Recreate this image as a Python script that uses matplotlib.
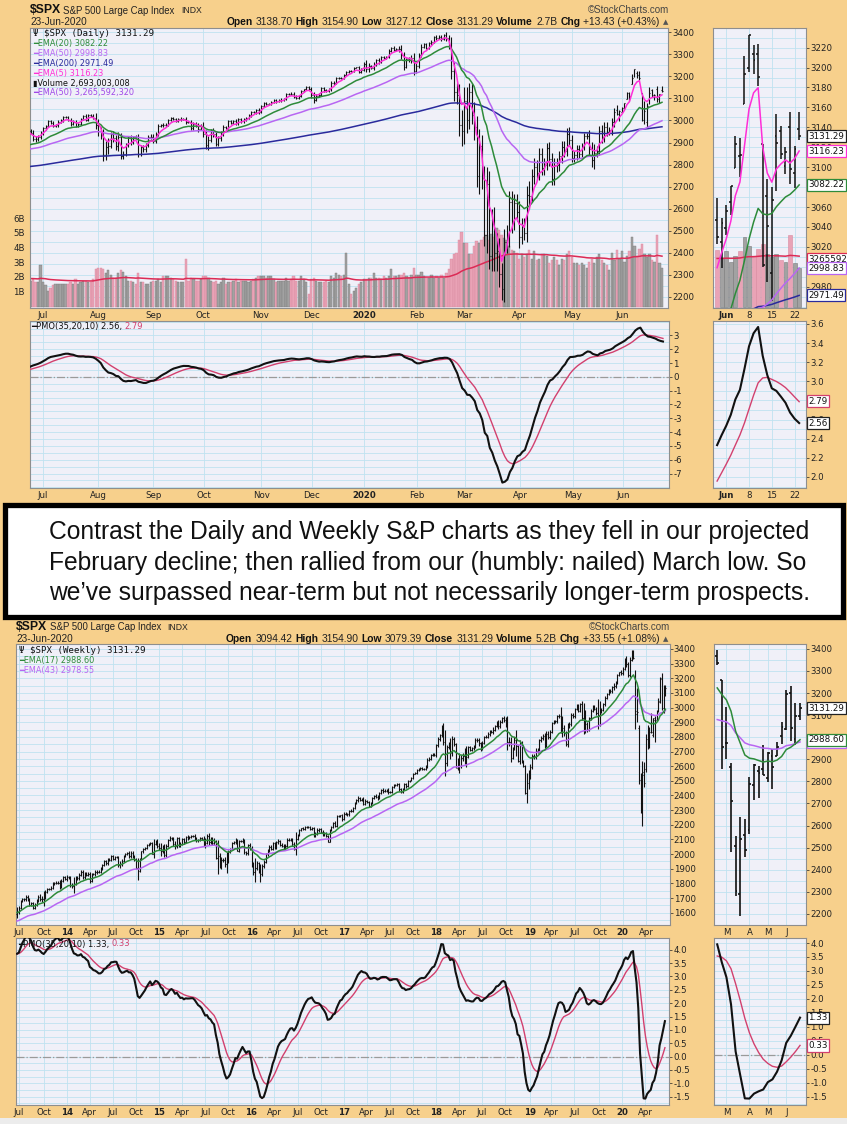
import numpy as np
import pandas as pd
import matplotlib
matplotlib.use("Agg")
import matplotlib.pyplot as plt
from matplotlib.patches import Rectangle
from matplotlib.transforms import Affine2D, blended_transform_factory

# ============================================================
# Daily data  (24-Jun-2019 .. 27-May-2020: closes + bar wicks)
# ============================================================

CLOSE_JUN19 = [2945.35, 2917.38, 2913.78, 2924.92, 2941.76]
CLOSE_JUL19 = [2964.33, 2973.01, 2995.82, 2990.41, 2975.95, 2979.63, 2993.07, 2999.91, 3013.77, 3014.30,
               3004.04, 2984.42, 2995.11, 2976.61, 2985.03, 3005.47, 3019.56, 3003.67, 3025.86, 3020.97,
               3013.18, 2980.38]
CLOSE_AUG19 = [2953.56, 2932.05, 2844.74, 2881.77, 2883.98, 2938.09, 2918.65, 2882.70, 2926.32, 2840.60,
               2847.60, 2888.68, 2923.65, 2900.51, 2924.43, 2922.95, 2847.11, 2878.38, 2869.16, 2887.94,
               2924.58, 2926.46]
CLOSE_SEP19 = [2906.27, 2937.78, 2976.00, 2978.71, 2978.43, 2979.39, 3000.93, 3009.57, 3007.39, 2997.96,
               3005.70, 3006.73, 3006.79, 2992.07, 2991.78, 2966.60, 2984.87, 2977.62, 2961.79, 2976.74]
CLOSE_OCT19 = [2940.25, 2887.61, 2910.63, 2952.01, 2938.79, 2893.06, 2919.40, 2938.13, 2970.27, 2966.15,
               2995.68, 2989.69, 2997.95, 2986.20, 3006.72, 2995.99, 3004.52, 3010.29, 3022.55, 3039.42,
               3036.89, 3046.77, 3037.56]
CLOSE_NOV19 = [3066.91, 3078.27, 3074.62, 3076.78, 3085.18, 3093.08, 3087.01, 3091.84, 3094.04, 3096.63,
               3120.46, 3122.03, 3120.18, 3108.46, 3103.54, 3110.29, 3133.64, 3140.52, 3153.63, 3140.98]
CLOSE_DEC19 = [3113.87, 3093.20, 3112.76, 3117.43, 3145.91, 3135.96, 3132.52, 3141.63, 3168.57, 3168.80,
               3191.45, 3192.52, 3191.14, 3205.37, 3221.22, 3224.01, 3223.38, 3239.91, 3240.02, 3221.29,
               3230.78]
CLOSE_JAN20 = [3257.85, 3234.85, 3246.28, 3237.18, 3253.05, 3274.70, 3265.35, 3288.13, 3283.15, 3289.29,
               3316.81, 3329.62, 3320.79, 3321.75, 3325.54, 3295.47, 3243.63, 3276.24, 3273.40, 3283.66,
               3225.52]
CLOSE_FEB20 = [3248.92, 3297.59, 3334.69, 3345.78, 3327.71, 3352.09, 3357.75, 3379.45, 3373.94, 3380.16,
               3370.29, 3386.15, 3373.23, 3337.75, 3225.89, 3128.21, 3116.39, 2978.76, 2954.22]
CLOSE_MAR20 = [3090.23, 3003.37, 3130.12, 3023.94, 2972.37, 2746.56, 2882.23, 2741.38, 2480.64, 2711.02,
               2386.13, 2529.19, 2398.10, 2409.39, 2304.92, 2237.40, 2447.33, 2475.56, 2630.07, 2541.47,
               2626.65, 2584.59]
CLOSE_APR20 = [2470.50, 2526.90, 2488.65, 2663.68, 2659.41, 2749.98, 2789.82, 2761.63, 2846.06, 2783.36,
               2799.55, 2874.56, 2823.16, 2736.56, 2799.31, 2797.80, 2836.74, 2878.48, 2863.39, 2939.51,
               2912.43]
CLOSE_MAY20 = [2830.71, 2842.74, 2868.44, 2848.42, 2881.19, 2929.80, 2930.32, 2870.12, 2820.00, 2852.50,
               2863.70, 2953.91, 2922.94, 2971.61, 2948.51, 2955.45, 2991.77, 3036.13]
FIRST_DAY_OPEN = 2951.4

WICK_JUN19 = [8, 10, 12, 8, 10]
WICK_JUL19 = [6, 6, 4, 8, 6, 6, 8, 5, 5, 4, 6, 8, 6, 8, 5, 6, 5, 8, 5, 5, 8, 20]
WICK_AUG19 = [25, 15, 30, 25, 35, 10, 15, 15, 20, 15, 15, 10, 8, 10, 5, 8, 15, 10, 10, 10, 8, 10]
WICK_SEP19 = [10, 8, 8, 5, 10, 8, 6, 5, 5, 5, 5, 10, 5, 8, 5, 10, 10, 8, 12, 6]
WICK_OCT19 = [15, 15, 20, 10, 12, 10, 10, 12, 10, 6, 6, 8, 6, 8, 6, 6, 6, 5, 5, 5, 5, 6, 8]
WICK_NOV19 = [5, 4, 4, 4, 5, 4, 6, 4, 6, 4, 4, 4, 5, 8, 8, 5, 4, 4, 4, 3]
WICK_DEC19 = [10, 15, 5, 5, 5, 5, 5, 5, 10, 10, 5, 5, 5, 4, 5, 4, 3, 3, 4, 8, 6]
WICK_JAN20 = [8, 15, 15, 6, 10, 5, 8, 5, 5, 5, 5, 5, 6, 8, 10, 15, 15, 8, 10, 15, 20]
WICK_FEB20 = [10, 10, 10, 5, 6, 5, 8, 5, 8, 5, 8, 5, 15, 15, 40, 40, 40, 50, 70]
WICK_MAR20 = [60, 60, 40, 40, 60, 50, 80, 50, 50, 80, 60, 70, 80, 80, 60, 50, 60, 50, 50, 50, 40, 40]
WICK_APR20 = [50, 30, 30, 40, 60, 30, 40, 30, 30, 30, 30, 25, 30, 30, 30, 30, 25, 30, 30, 25, 30]
WICK_MAY20 = [20, 20, 20, 20, 15, 15, 15, 25, 30, 40, 20, 20, 25, 20, 20, 15, 20, 20]

# daily volume, billions of shares (24-Jun-2019 .. 27-May-2020)
VOL_JUN19 = [1.8, 1.9, 1.7, 1.7, 2.9]
VOL_JUL19 = [1.7, 1.5, 1.1, 1.3, 1.5, 1.6, 1.6, 1.6, 1.6, 1.6, 1.6, 1.7, 1.6, 1.9, 1.6, 1.7, 1.8, 1.8, 1.7, 1.7,
             1.9, 2.6]
VOL_AUG19 = [2.7, 2.7, 2.6, 2.3, 2.5, 2.2, 2.0, 2.0, 2.3, 2.5, 2.4, 2.1, 1.8, 1.8, 1.7, 1.6, 2.3, 1.7, 1.7, 1.6,
             1.6, 1.7]
VOL_SEP19 = [1.8, 1.8, 1.9, 1.7, 2.1, 2.1, 2.1, 2.0, 1.9, 1.8, 1.7, 1.7, 1.7, 3.3, 1.8, 2.0, 1.9, 1.8, 1.8, 1.9]
VOL_OCT19 = [2.1, 2.1, 2.0, 1.8, 1.7, 1.8, 1.6, 1.7, 2.0, 1.6, 1.7, 1.7, 1.8, 1.9, 1.7, 1.8, 1.8, 1.8, 1.7, 1.8,
             1.9, 2.0, 2.1]
VOL_NOV19 = [2.1, 2.1, 2.0, 2.1, 2.1, 1.9, 1.7, 1.8, 1.8, 1.8, 2.0, 1.8, 1.9, 2.1, 1.8, 1.8, 2.1, 1.9, 1.7, 0.9]
VOL_DEC19 = [1.9, 2.0, 1.8, 1.7, 1.7, 1.7, 1.8, 1.7, 2.1, 2.0, 2.3, 2.2, 2.1, 2.2, 3.7, 1.6, 0.9, 1.1, 1.3, 1.6,
             1.7]
VOL_JAN20 = [1.9, 1.9, 2.0, 2.0, 2.3, 2.0, 2.0, 1.9, 2.1, 2.0, 2.1, 2.6, 2.1, 2.1, 2.2, 2.2, 2.3, 2.1, 2.0, 2.2,
             2.7]
VOL_FEB20 = [2.2, 2.2, 2.4, 2.1, 2.0, 2.0, 2.2, 2.0, 2.1, 2.0, 2.2, 2.0, 2.3, 2.6, 3.3, 3.6, 3.7, 4.6, 5.1]
VOL_MAR20 = [4.4, 4.4, 3.6, 3.6, 4.2, 4.5, 4.4, 4.6, 4.8, 4.9, 4.6, 5.0, 4.8, 5.4, 5.3, 4.9, 4.7, 4.6, 4.2, 3.9,
             3.8, 3.7]
VOL_APR20 = [3.3, 3.6, 3.4, 3.6, 3.9, 3.3, 3.8, 3.2, 3.3, 3.6, 3.6, 3.5, 3.0, 3.2, 3.4, 3.2, 2.9, 3.3, 3.2, 3.6,
             3.8]
VOL_MAY20 = [3.4, 3.0, 3.0, 2.9, 3.0, 2.9, 2.7, 3.1, 3.3, 3.0, 3.4, 3.6, 3.2, 3.0, 2.9, 2.5, 3.7, 3.2]

# last 19 sessions (28-May .. 23-Jun-2020), full OHLC + volume
RECENT_OPEN = [3046.61, 3025.17, 3038.78, 3064.78, 3098.90, 3111.56, 3163.84, 3199.92, 3213.32, 3213.42,
               3123.53, 3071.04, 2993.76, 3131.00, 3136.13, 3101.64, 3140.29, 3094.42, 3138.70]
RECENT_HIGH = [3068.67, 3049.17, 3062.18, 3081.07, 3130.94, 3128.91, 3211.72, 3233.13, 3222.71, 3223.27,
               3123.53, 3088.42, 3079.76, 3153.45, 3141.16, 3120.00, 3155.53, 3120.92, 3154.90]
RECENT_LOW = [3023.40, 2998.61, 3031.54, 3051.64, 3098.90, 3090.41, 3163.84, 3196.00, 3193.11, 3181.49,
              2999.49, 2984.47, 2965.66, 3076.06, 3108.03, 3093.51, 3083.11, 3079.39, 3127.12]
RECENT_CLOSE = [3029.73, 3044.31, 3055.73, 3080.82, 3122.87, 3112.35, 3193.93, 3232.39, 3207.18, 3190.14,
                3002.10, 3041.31, 3066.59, 3124.74, 3113.49, 3115.34, 3097.74, 3117.86, 3131.29]
RECENT_VOL = [3.9, 3.3, 3.8, 3.1, 3.5, 3.8, 4.8, 4.2, 3.5, 4.0, 4.3, 3.6, 3.4, 3.6, 3.2, 3.1, 4.9, 3.0, 2.693]

HOLIDAYS = ["2019-07-04", "2019-09-02", "2019-11-28", "2019-12-25", "2020-01-01",
            "2020-01-20", "2020-02-17", "2020-04-10", "2020-05-25"]

# ============================================================
# Weekly data  (28-Jun-2013 .. 14-Feb-2020: closes + wicks)
# ============================================================

WCLOSE_2013 = [1606.28, 1631.89, 1680.19, 1692.09, 1691.65, 1709.67, 1691.42, 1655.83, 1663.50, 1632.97,
               1655.17, 1687.99, 1709.91, 1691.75, 1690.50, 1703.20, 1744.50, 1759.77, 1761.64, 1770.61,
               1798.18, 1804.76, 1805.81, 1805.09, 1775.32, 1818.32, 1841.40]
WCLOSE_2014 = [1831.37, 1842.37, 1838.70, 1790.29, 1782.59, 1797.02, 1838.63, 1836.25, 1859.45, 1878.04,
               1841.13, 1866.52, 1857.62, 1865.09, 1815.69, 1864.85, 1863.40, 1881.14, 1878.48, 1877.86,
               1900.53, 1923.57, 1949.44, 1936.16, 1962.87, 1960.96, 1985.44, 1967.57, 1978.22, 1978.34,
               1925.15, 1931.59, 1955.06, 1988.40, 2003.37, 2007.71, 1985.54, 2010.40, 1982.85, 1967.90,
               1906.13, 1886.76, 1964.58, 2018.05, 2031.92, 2039.82, 2063.50, 2067.56, 2075.37, 2002.33,
               2070.65, 2088.77]
WCLOSE_2015 = [2058.20, 2044.81, 2019.42, 2051.82, 1994.99, 2055.47, 2096.99, 2110.30, 2104.50, 2071.26,
               2053.40, 2108.10, 2061.02, 2066.96, 2102.06, 2081.18, 2117.69, 2108.29, 2116.10, 2122.73,
               2126.06, 2107.39, 2092.83, 2094.11, 2109.99, 2101.49, 2076.78, 2076.62, 2126.64, 2079.65,
               2103.84, 2077.57, 2091.54, 1970.89, 1988.87, 1921.22, 1961.05, 1958.03, 1931.34, 1951.36,
               2014.89, 2033.11, 2075.15, 2079.36, 2099.20, 2023.04, 2089.17, 2090.11, 2091.69, 2012.37,
               2005.55, 2060.99, 2043.94]
WCLOSE_2016 = [1922.03, 1880.33, 1906.90, 1940.24, 1880.05, 1864.78, 1917.78, 1948.05, 1999.99, 2022.19,
               2049.58, 2035.94, 2072.78, 2047.60, 2080.73, 2091.58, 2065.30, 2057.14, 2046.61, 2052.32,
               2099.06, 2099.13, 2096.07, 2071.22, 2037.41, 2102.95, 2129.90, 2161.74, 2175.03, 2173.60,
               2182.87, 2184.05, 2183.87, 2169.04, 2179.98, 2127.81, 2139.16, 2164.69, 2168.27, 2153.74,
               2132.98, 2141.16, 2126.41, 2085.18, 2164.45, 2181.90, 2213.35, 2191.95, 2259.53, 2258.07,
               2263.79, 2238.83]
WCLOSE_2017 = [2276.98, 2274.64, 2271.31, 2294.69, 2297.42, 2316.10, 2351.16, 2367.34, 2383.12, 2372.60,
               2378.25, 2343.98, 2362.72, 2355.54, 2328.95, 2348.69, 2384.20, 2399.29, 2390.90, 2381.73,
               2415.82, 2439.07, 2431.77, 2433.15, 2438.30, 2423.41, 2425.18, 2459.27, 2472.54, 2472.10,
               2476.83, 2441.32, 2425.55, 2443.05, 2476.55, 2461.43, 2500.23, 2502.22, 2519.36, 2549.33,
               2553.17, 2575.21, 2581.07, 2587.84, 2582.30, 2578.85, 2602.42, 2642.22, 2651.50, 2675.81,
               2683.34, 2673.61]
WCLOSE_2018 = [2743.15, 2786.24, 2810.30, 2872.87, 2762.13, 2619.55, 2732.22, 2747.30, 2691.25, 2786.57,
               2752.01, 2588.26, 2640.87, 2604.47, 2656.30, 2670.14, 2669.91, 2663.42, 2727.72, 2712.97,
               2721.33, 2734.62, 2779.03, 2779.66, 2754.88, 2718.37, 2759.82, 2801.31, 2801.83, 2818.82,
               2840.35, 2833.28, 2850.13, 2874.69, 2901.52, 2871.68, 2904.98, 2929.67, 2913.98, 2885.57,
               2767.13, 2767.78, 2658.69, 2723.06, 2781.01, 2736.27, 2632.56, 2760.17, 2633.08, 2599.95,
               2416.62, 2485.74]
WCLOSE_2019 = [2531.94, 2596.26, 2670.71, 2664.76, 2706.53, 2707.88, 2775.60, 2792.67, 2803.69, 2743.07,
               2822.48, 2800.71, 2834.40, 2892.74, 2907.41, 2905.03, 2939.88, 2945.64, 2881.40, 2859.53,
               2826.06, 2752.06, 2873.34, 2886.98, 2950.46, 2941.76, 2990.41, 3013.77, 2976.61, 3025.86,
               2932.05, 2918.65, 2888.68, 2847.11, 2926.46, 2978.71, 3007.39, 2992.07, 2961.79, 2952.01,
               2970.27, 2986.20, 3022.55, 3066.91, 3093.08, 3120.46, 3110.29, 3140.98, 3145.91, 3168.80,
               3221.22, 3240.02]
WCLOSE_2020 = [3234.85, 3265.35, 3329.62, 3295.47, 3225.52, 3327.71, 3380.16]
FIRST_WEEK_OPEN = 1592.4

WWICK_2013 = [30, 12, 8, 8, 10, 10, 10, 12, 10, 8, 10, 8, 12, 15, 20, 44, 8, 8, 8, 10, 8, 8, 8, 12, 15, 10, 8]
WWICK_2014 = [10, 12, 10, 15, 12, 45, 10, 10, 10, 10, 12, 12, 10, 10, 10, 8, 8, 10, 12, 10, 8, 6, 8, 10, 8, 8,
              8, 10, 10, 8, 10, 20, 12, 8, 6, 8, 12, 10, 12, 12, 8, 66, 10, 6, 8, 6, 6, 8, 8, 5, 30, 10]
WWICK_2015 = [15, 20, 31, 10, 15, 15, 8, 10, 8, 15, 20, 10, 10, 15, 8, 10, 8, 10, 8, 8, 6, 8, 12, 10, 8, 8,
              20, 32, 10, 15, 10, 15, 15, 5, 104, 18, 20, 15, 20, 60, 10, 10, 8, 8, 8, 5, 10, 6, 15, 10, 12,
              10, 15]
WWICK_2016 = [8, 22, 68, 15, 8, 55, 15, 10, 10, 10, 10, 10, 10, 12, 10, 10, 8, 12, 15, 15, 8, 8, 10, 15, 10,
              45, 10, 8, 6, 8, 6, 5, 6, 8, 8, 8, 12, 10, 12, 8, 8, 10, 10, 5, 5, 8, 6, 10, 8, 6, 5, 10]
WWICK_2017 = [8, 8, 8, 8, 8, 8, 6, 6, 10, 8, 8, 10, 10, 8, 8, 8, 6, 6, 8, 12, 6, 6, 12, 8, 6, 10, 8, 6, 6, 8,
              6, 8, 10, 8, 6, 8, 6, 6, 5, 5, 5, 6, 8, 6, 8, 8, 6, 15, 8, 6, 6, 6]
WWICK_2018 = [10, 10, 12, 8, 20, 87, 15, 15, 44, 20, 15, 3, 15, 51, 20, 20, 57, 69, 10, 10, 10, 10, 10, 12,
              15, 12, 10, 8, 10, 12, 10, 8, 15, 8, 8, 15, 10, 8, 10, 20, 57, 30, 30, 10, 15, 65, 5, 20, 12, 7,
              8, 70]
WWICK_2019 = [41, 20, 15, 15, 15, 15, 12, 12, 15, 21, 15, 15, 15, 10, 8, 8, 10, 10, 56, 58, 20, 15, 23, 15,
              15, 12, 10, 8, 10, 8, 18, 96, 63, 12, 10, 10, 10, 10, 12, 96, 78, 10, 8, 10, 8, 8, 8, 8, 20, 10,
              8, 5]
WWICK_2020 = [15, 15, 8, 20, 15, 20, 10]

# last 19 weeks (21-Feb .. 23-Jun-2020), full OHLC
RW_OPEN = [3369.04, 3257.61, 2974.28, 2863.89, 2508.59, 2290.71, 2558.98, 2578.28, 2782.46, 2845.62,
           2854.65, 2815.01, 2915.46, 2913.86, 3004.08, 3038.78, 3199.92, 2993.76, 3094.42]
RW_HIGH = [3393.52, 3259.81, 3136.72, 2882.59, 2553.93, 2637.01, 2631.80, 2818.57, 2879.22, 2868.98,
           2964.42, 2932.16, 2945.82, 2980.29, 3068.67, 3211.72, 3233.13, 3155.53, 3154.90]
RW_LOW = [3328.45, 2855.84, 2901.54, 2478.86, 2280.52, 2191.86, 2455.79, 2562.98, 2717.76, 2727.10,
          2827.52, 2797.85, 2766.64, 2913.86, 2969.75, 3031.54, 2984.47, 2965.66, 3079.39]
RW_CLOSE = [3337.75, 2954.22, 2972.37, 2711.02, 2304.92, 2541.47, 2488.65, 2789.82, 2874.56, 2836.74,
            2830.71, 2929.80, 2863.70, 2955.45, 3044.31, 3193.93, 3041.31, 3097.74, 3131.29]

# ============================================================
# Style
# ============================================================

W, H = 847, 1124
ORANGE = "#F7D08C"
PANEL = "#F0F0F8"
GRID = "#BFE2F0"
BARC = "#111111"
GREEN = "#2E8B3A"
VIOLET = "#B866F2"
NAVY = "#2A2A9C"
MAGENTA = "#FF2ED8"
VOLRED = "#DC2A55"
SIGRED = "#D2406E"
VOL_PINK = "#E9A3B6"
VOL_GRAY = "#A2A2A2"
VOL_LO, VOL_HI = -0.07, 19.1
TXT = "#222222"
SANS = "Liberation Sans"


def ema(values, n, seed):
    a = 2.0 / (n + 1)
    out, e = [], seed
    for v in values:
        e = e + a * (v - e)
        out.append(e)
    return np.array(out)


def pmo(close, s1, p, sig):
    # StockCharts PMO: 20-custom(10 * 35-custom(ROC)), signal = EMA(10)
    ps, ss = [p], [sig]
    for i in range(1, len(close)):
        roc = (close[i] / close[i - 1] - 1) * 100
        s1 += (roc * 10 - s1) * 2 / 35
        p += (s1 - p) * 2 / 20
        sig += (p - sig) * 2 / 11
        ps.append(p)
        ss.append(sig)
    return np.array(ps), np.array(ss)


# ---- assemble daily series
d_close_hist = np.concatenate([CLOSE_JUN19, CLOSE_JUL19, CLOSE_AUG19, CLOSE_SEP19, CLOSE_OCT19, CLOSE_NOV19,
                               CLOSE_DEC19, CLOSE_JAN20, CLOSE_FEB20, CLOSE_MAR20, CLOSE_APR20, CLOSE_MAY20])
d_wick = np.concatenate([WICK_JUN19, WICK_JUL19, WICK_AUG19, WICK_SEP19, WICK_OCT19, WICK_NOV19,
                         WICK_DEC19, WICK_JAN20, WICK_FEB20, WICK_MAR20, WICK_APR20, WICK_MAY20])
d_open_hist = np.r_[FIRST_DAY_OPEN, d_close_hist[:-1]]
d_open = np.r_[d_open_hist, RECENT_OPEN]
d_high = np.r_[np.maximum(d_open_hist, d_close_hist) + d_wick, RECENT_HIGH]
d_low = np.r_[np.minimum(d_open_hist, d_close_hist) - d_wick, RECENT_LOW]
d_close = np.r_[d_close_hist, RECENT_CLOSE]
d_vol = np.concatenate([VOL_JUN19, VOL_JUL19, VOL_AUG19, VOL_SEP19, VOL_OCT19, VOL_NOV19, VOL_DEC19,
                        VOL_JAN20, VOL_FEB20, VOL_MAR20, VOL_APR20, VOL_MAY20, RECENT_VOL])
d_dates = pd.bdate_range("2019-06-24", "2020-06-23")
d_dates = d_dates[~d_dates.isin(pd.to_datetime(HOLIDAYS))]
assert len(d_dates) == len(d_close) == len(d_vol)
dx = np.arange(len(d_close))

ema5 = ema(d_close, 5, 2938)
ema20 = ema(d_close, 20, 2885)
ema50 = ema(d_close, 50, 2868)
ema200 = ema(d_close, 200, 2790)
vema50 = ema(d_vol, 50, 1.95)
d_pmo, d_sig = pmo(d_close, 2.2, 0.75, 0.55)
d_up = np.r_[True, d_close[1:] >= d_close[:-1]]

# ---- assemble weekly series
w_close_hist = np.concatenate([WCLOSE_2013, WCLOSE_2014, WCLOSE_2015, WCLOSE_2016, WCLOSE_2017,
                               WCLOSE_2018, WCLOSE_2019, WCLOSE_2020])
w_wick = np.concatenate([WWICK_2013, WWICK_2014, WWICK_2015, WWICK_2016, WWICK_2017, WWICK_2018,
                         WWICK_2019, WWICK_2020])
w_open_hist = np.r_[FIRST_WEEK_OPEN, w_close_hist[:-1]]
w_open = np.r_[w_open_hist, RW_OPEN]
w_high = np.r_[np.maximum(w_open_hist, w_close_hist) + w_wick, RW_HIGH]
w_low = np.r_[np.minimum(w_open_hist, w_close_hist) - w_wick, RW_LOW]
w_close = np.r_[w_close_hist, RW_CLOSE]
w_dates = pd.date_range("2013-06-28", periods=len(w_close), freq="7D")
wx = np.arange(len(w_close))

ema17 = ema(w_close, 17, 1600)
ema43 = ema(w_close, 43, 1540)
w_pmo, w_sig = pmo(w_close, 3.6, 3.85, 3.85)

N_IN = len(RECENT_CLOSE)     # daily zoom panel
NW_IN = len(RW_CLOSE)        # weekly zoom panel

# ============================================================
# Figure helpers
# ============================================================

fig = plt.figure(figsize=(W / 100, H / 100), dpi=100)
fig.patch.set_facecolor(ORANGE)


def px_axes(x0, y0, x1, y1):
    ax = fig.add_axes([x0 / W, 1 - y1 / H, (x1 - x0) / W, (y1 - y0) / H])
    ax.set_facecolor(PANEL)
    for s in ax.spines.values():
        s.set_color("#8E8E8E")
        s.set_linewidth(0.8)
    ax.tick_params(axis="y", which="both", left=False, right=True, labelleft=False, labelright=True,
                   length=2, width=0.5, pad=1, labelsize=6.2, colors=TXT)
    ax.tick_params(axis="y", which="minor", length=0)
    ax.tick_params(axis="x", which="both", length=0, pad=2.2, labelsize=6.2, colors=TXT)
    ax.grid(True, which="both", color=GRID, lw=0.6)
    ax.set_axisbelow(True)
    return ax


def vol_trans(ax):
    ty = Affine2D().translate(0, -VOL_LO).scale(1, 1 / (VOL_HI - VOL_LO)) + ax.transAxes
    return blended_transform_factory(ax.transData, ty), blended_transform_factory(ax.transAxes, ty)


def ohlc(ax, x, o, h, l, c, lw, tick):
    ax.vlines(x, l, h, color=BARC, lw=lw, zorder=3)
    ax.hlines(o, x - tick, x, color=BARC, lw=lw, zorder=3)
    ax.hlines(c, x, x + tick, color=BARC, lw=lw, zorder=3)


def tag(ax, y, text, ec, trans=None, z=5):
    tr = trans if trans is not None else blended_transform_factory(ax.transAxes, ax.transData)
    ax.annotate(text, xy=(1.0, y), xycoords=tr, xytext=(1.5, 0), textcoords="offset points",
                ha="left", va="center", fontsize=6.3, color="#111111", zorder=z,
                bbox=dict(boxstyle="square,pad=0.18", fc="white", ec=ec, lw=0.9),
                annotation_clip=False)


def runs(x, y, pieces, ha="left", gap=3.0):
    rend = fig.canvas.get_renderer()
    arts = [fig.text(0, 1 - y / H, s, va="center", **kw) for s, kw in pieces]
    widths = [a.get_window_extent(rend).width for a in arts]
    total = sum(widths) + gap * (len(arts) - 1)
    cur = x - total if ha == "right" else x
    for a, w in zip(arts, widths):
        a.set_x(cur / W)
        cur += w + gap


def ftext(x, y, s, **kw):
    kw.setdefault("va", "center")
    return fig.text(x / W, 1 - y / H, s, **kw)


def month_ticks(dates, months, fmt):
    idx, labels, bold = [], [], []
    prev = None
    for i, d in enumerate(dates):
        if prev is not None and d.month != prev and d.month in months:
            idx.append(i)
            labels.append(fmt(d))
            bold.append(d.month == 1)
        prev = d.month
    return idx, labels, bold


def set_xlabels(ax, idx, labels, bold):
    ax.set_xticks(idx)
    ax.set_xticklabels(labels)
    for lab, b in zip(ax.get_xticklabels(), bold):
        if b:
            lab.set_fontweight("bold")


B7 = dict(fontfamily=SANS, fontweight="bold", fontsize=7.4, color="#111111")
R7 = dict(fontfamily=SANS, fontsize=7.4, color="#222222")
TRI = dict(fontfamily="DejaVu Sans", fontsize=5, color="#555555")

d_idx, d_lab, d_bold = month_ticks(d_dates, range(1, 13),
                                   lambda d: "2020" if d.month == 1 else d.strftime("%b"))
w_idx, w_lab, w_bold = month_ticks(w_dates - pd.Timedelta(days=4), (1, 4, 7, 10),
                                   lambda d: f"{d.year % 100:02d}" if d.month == 1 else d.strftime("%b"))

# ============================================================
# Daily chart (top)
# ============================================================

ax = px_axes(30, 28, 668, 308)
vt, vta = vol_trans(ax)
ax.bar(dx, d_vol, width=0.9, color=np.where(d_up, VOL_GRAY, VOL_PINK),
       edgecolor=np.where(d_up, "#7A7A7A", "#D98AA0"), lw=0.3, transform=vt, zorder=1)
ax.plot(dx, vema50, color=VOLRED, lw=1.1, transform=vt, zorder=2)
ohlc(ax, dx, d_open, d_high, d_low, d_close, 0.8, 0.35)
ax.plot(dx, ema200, color=NAVY, lw=1.1, zorder=4)
ax.plot(dx, ema50, color=VIOLET, lw=1.1, zorder=4)
ax.plot(dx, ema20, color=GREEN, lw=1.1, zorder=4)
ax.plot(dx, ema5, color=MAGENTA, lw=1.1, zorder=4)
ax.set_xlim(-0.2, 254.4)
ax.set_ylim(2164, 3419)
ax.set_yticks(np.arange(2200, 3401, 100))
ax.set_yticks(np.arange(2150, 3401, 50), minor=True)
set_xlabels(ax, d_idx, d_lab, d_bold)
for v in range(1, 7):
    ax.text(-0.008, v, f"{v}B", transform=vta, ha="right", va="center", fontsize=6.2, color=TXT)

# zoomed daily panel
axi = px_axes(713, 28, 806, 308)
ix = np.arange(N_IN)
s = slice(len(d_close) - N_IN, None)
vti, vtai = vol_trans(axi)
axi.bar(ix, d_vol[s], width=0.85, color=np.where(d_up[s], VOL_GRAY, VOL_PINK),
        edgecolor=np.where(d_up[s], "#7A7A7A", "#D98AA0"), lw=0.4, transform=vti, zorder=1)
axi.plot(ix, vema50[s], color=VOLRED, lw=1.1, transform=vti, zorder=2)
ohlc(axi, ix, d_open[s], d_high[s], d_low[s], d_close[s], 1.1, 0.4)
axi.plot(ix, ema200[s], color=NAVY, lw=1.1, zorder=4)
axi.plot(ix, ema50[s], color=VIOLET, lw=1.1, zorder=4)
axi.plot(ix, ema20[s], color=GREEN, lw=1.1, zorder=4)
axi.plot(ix, ema5[s], color=MAGENTA, lw=1.1, zorder=4)
axi.set_xlim(-0.9, N_IN + 0.5)
axi.set_ylim(2958.7, 3239.7)
axi.set_yticks(np.arange(2980, 3221, 20))
axi.set_yticks(np.arange(2960, 3240, 10), minor=True)
rd = d_dates[s]
mon = [i for i in range(N_IN) if rd[i].weekday() == 0 or (i > 0 and rd[i].month != rd[i - 1].month)]
mon = [i for i in mon if i > 0]
set_xlabels(axi, mon, ["Jun" if rd[i].day < 7 else str(rd[i].day) for i in mon],
            [rd[i].day < 7 for i in mon])
tag(axi, 3265592320 / 1e9, "3265592", VOLRED, trans=vtai, z=5)
tag(axi, 2998.83, "2998.83", VIOLET, z=6)
tag(axi, 2971.49, "2971.49", NAVY, z=6)
tag(axi, 3082.22, "3082.22", GREEN, z=6)
tag(axi, 3116.23, "3116.23", MAGENTA, z=6)
tag(axi, 3131.29, "3131.29", "#222222", z=7)

# daily PMO
axp = px_axes(30, 321, 669, 488)
axp.axhline(0, color="#9A9A9A", lw=0.9, ls="-.", zorder=1)
axp.plot(dx, d_sig, color=SIGRED, lw=1.0, zorder=3)
axp.plot(dx, d_pmo, color="#111111", lw=1.5, zorder=4)
axp.set_xlim(-0.2, 254.4)
axp.set_ylim(-8.05, 4.05)
axp.set_yticks(np.arange(-7, 4, 1))
axp.set_yticklabels([str(v) for v in range(-7, 4)])
axp.set_yticks(np.arange(-8, 4.01, 0.5), minor=True)
set_xlabels(axp, d_idx, d_lab, d_bold)

axpi = px_axes(713, 321, 806, 488)
axpi.plot(ix, d_sig[s], color=SIGRED, lw=1.0, zorder=3)
axpi.plot(ix, d_pmo[s], color="#111111", lw=1.5, zorder=4)
axpi.set_xlim(-0.9, N_IN + 0.5)
axpi.set_ylim(1.885, 3.63)
axpi.set_yticks(np.arange(2.0, 3.61, 0.2))
axpi.set_yticklabels([f"{v:.1f}" for v in np.arange(2.0, 3.61, 0.2)])
axpi.set_yticks(np.arange(1.9, 3.61, 0.1), minor=True)
set_xlabels(axpi, mon, ["Jun" if rd[i].day < 7 else str(rd[i].day) for i in mon],
            [rd[i].day < 7 for i in mon])
tag(axpi, 2.79, "2.79", SIGRED)
tag(axpi, 2.56, "2.56", "#222222")

# daily header + legends
ftext(30, 10, "$SPX", fontfamily=SANS, fontweight="bold", fontsize=8.8, color="#111111")
ftext(63, 10.5, "S&P 500 Large Cap Index", fontfamily=SANS, fontsize=6.9, color="#222222")
ftext(181, 10.5, "INDX", fontfamily=SANS, fontsize=6.2, color="#222222")
ftext(30, 22, "23-Jun-2020", fontfamily=SANS, fontsize=7.2, color="#222222")
ftext(669, 10, "©StockCharts.com", ha="right", fontfamily=SANS, fontsize=7, color="#444444")
runs(668, 22, [("Open", B7), ("3138.70", R7), ("High", B7), ("3154.90", R7), ("Low", B7),
               ("3127.12", R7), ("Close", B7), ("3131.29", R7), ("Volume", B7), ("2.7B", R7),
               ("Chg", B7), ("+13.43 (+0.43%)", R7), ("▲", TRI)], ha="right")

ftext(33, 33.5, "Ψ $SPX (Daily) 3131.29", fontfamily="DejaVu Sans Mono", fontsize=6.6, color="#111111")
leg = [("━EMA(20) 3082.22", GREEN), ("━EMA(50) 2998.83", VIOLET), ("━EMA(200) 2971.49", NAVY),
       ("━EMA(5) 3116.23", MAGENTA), ("▮Volume 2,693,003,008", "#111111"),
       ("━EMA(50) 3,265,592,320", "#A048E8")]
for k, (t, c) in enumerate(leg):
    ftext(33, 43.7 + 9.85 * k, t, fontfamily="DejaVu Sans", fontsize=5.9, color=c)
runs(31, 326.7, [("━PMO(35,20,10) 2.56,", dict(fontfamily="DejaVu Sans", fontsize=6, color="#111111")),
                 ("2.79", dict(fontfamily="DejaVu Sans", fontsize=6, color=SIGRED))], gap=2.5)

# ============================================================
# Comment box
# ============================================================

fig.patches.append(Rectangle((4.5 / W, 1 - 616.5 / H), 838 / W, 111.5 / H, transform=fig.transFigure,
                             fc="white", ec="black", lw=3.8, zorder=10))
BOX_LINES = ["Contrast the Daily and Weekly S&P charts as they fell in our projected",
             "February decline; then rallied from our (humbly: nailed) March low. So",
             "we\u2019ve surpassed near-term but not necessarily longer-term prospects."]
for k, line in enumerate(BOX_LINES):
    t = ftext(49, 532.5 + 30.3 * k, line, fontfamily=SANS, fontsize=17.7, color="#111111")
    t.set_zorder(11)

# ============================================================
# Weekly chart (bottom)
# ============================================================

axw = px_axes(16, 644, 669.5, 925)
ohlc(axw, wx, w_open, w_high, w_low, w_close, 0.8, 0.35)
axw.plot(wx, ema43, color=VIOLET, lw=1.1, zorder=4)
axw.plot(wx, ema17, color=GREEN, lw=1.1, zorder=4)
axw.set_xlim(-0.6, 367.3)
axw.set_ylim(1516, 3434)
axw.set_yticks(np.arange(1600, 3401, 100))
axw.set_yticks(np.arange(1550, 3431, 50), minor=True)
set_xlabels(axw, w_idx, w_lab, w_bold)

axwi = px_axes(714, 644, 806, 925)
jx = np.arange(NW_IN)
sw = slice(len(w_close) - NW_IN, None)
ohlc(axwi, jx, w_open[sw], w_high[sw], w_low[sw], w_close[sw], 1.2, 0.4)
axwi.plot(jx, ema43[sw], color=VIOLET, lw=1.1, zorder=4)
axwi.plot(jx, ema17[sw], color=GREEN, lw=1.1, zorder=4)
axwi.set_xlim(-0.7, NW_IN + 0.3)
axwi.set_ylim(2166, 3422)
axwi.set_yticks(np.arange(2200, 3401, 100))
axwi.set_yticks(np.arange(2150, 3421, 50), minor=True)
rwd = w_dates[sw] - pd.Timedelta(days=4)
wm = [i for i in range(1, NW_IN) if rwd[i].month != rwd[i - 1].month]
set_xlabels(axwi, wm, [rwd[i].strftime("%b")[0] for i in wm], [False] * len(wm))
tag(axwi, 2978.55, "2978.55", VIOLET, z=5)
tag(axwi, 2988.60, "2988.60", GREEN, z=6)
tag(axwi, 3131.29, "3131.29", "#222222", z=7)

# weekly PMO
axwp = px_axes(16, 938, 669, 1105)
axwp.axhline(0, color="#9A9A9A", lw=0.9, ls="-.", zorder=1)
axwp.plot(wx, w_sig, color=SIGRED, lw=1.0, zorder=3)
axwp.plot(wx, w_pmo, color="#111111", lw=1.5, zorder=4)
axwp.set_xlim(-0.6, 367.3)
axwp.set_ylim(-1.81, 4.44)
axwp.set_yticks(np.arange(-1.5, 4.01, 0.5))
axwp.set_yticklabels([f"{v:.1f}" for v in np.arange(-1.5, 4.01, 0.5)])
axwp.set_yticks(np.arange(-1.75, 4.3, 0.25), minor=True)
set_xlabels(axwp, w_idx, w_lab, w_bold)

axwpi = px_axes(714, 938, 806, 1105)
axwpi.axhline(0, color="#9A9A9A", lw=0.9, ls="-.", zorder=1)
axwpi.plot(jx, w_sig[sw], color=SIGRED, lw=1.0, zorder=3)
axwpi.plot(jx, w_pmo[sw], color="#111111", lw=1.5, zorder=4)
axwpi.set_xlim(-0.7, NW_IN + 0.3)
axwpi.set_ylim(-1.80, 4.18)
axwpi.set_yticks(np.arange(-1.5, 4.01, 0.5))
axwpi.set_yticklabels([f"{v:.1f}" for v in np.arange(-1.5, 4.01, 0.5)])
axwpi.set_yticks(np.arange(-1.75, 4.1, 0.25), minor=True)
set_xlabels(axwpi, wm, [rwd[i].strftime("%b")[0] for i in wm], [False] * len(wm))
tag(axwpi, 1.33, "1.33", "#222222")
tag(axwpi, 0.33, "0.33", SIGRED)

# weekly header + legends
ftext(16, 627, "$SPX", fontfamily=SANS, fontweight="bold", fontsize=8.8, color="#111111")
ftext(50, 627.5, "S&P 500 Large Cap Index", fontfamily=SANS, fontsize=6.9, color="#222222")
ftext(167, 627.5, "INDX", fontfamily=SANS, fontsize=6.2, color="#222222")
ftext(16, 639, "23-Jun-2020", fontfamily=SANS, fontsize=7.2, color="#222222")
ftext(670, 627, "©StockCharts.com", ha="right", fontfamily=SANS, fontsize=7, color="#444444")
runs(668, 639, [("Open", B7), ("3094.42", R7), ("High", B7), ("3154.90", R7), ("Low", B7),
                ("3079.39", R7), ("Close", B7), ("3131.29", R7), ("Volume", B7), ("5.2B", R7),
                ("Chg", B7), ("+33.55 (+1.08%)", R7), ("▲", TRI)], ha="right")
ftext(19, 650.7, "Ψ $SPX (Weekly) 3131.29", fontfamily="DejaVu Sans Mono", fontsize=6.6, color="#111111")
ftext(19, 660.7, "━EMA(17) 2988.60", fontfamily="DejaVu Sans", fontsize=5.9, color=GREEN)
ftext(19, 671, "━EMA(43) 2978.55", fontfamily="DejaVu Sans", fontsize=5.9, color=VIOLET)
runs(18, 944, [("━PMO(35,20,10) 1.33,", dict(fontfamily="DejaVu Sans", fontsize=6, color="#111111")),
               ("0.33", dict(fontfamily="DejaVu Sans", fontsize=6, color=SIGRED))], gap=2.5)

fig.patches.append(Rectangle((0, 0), 1, 6 / H, transform=fig.transFigure, fc="#ECECEC", ec="none"))

fig.savefig("out.png", dpi=100, facecolor=fig.get_facecolor())
print("saved out.png")
